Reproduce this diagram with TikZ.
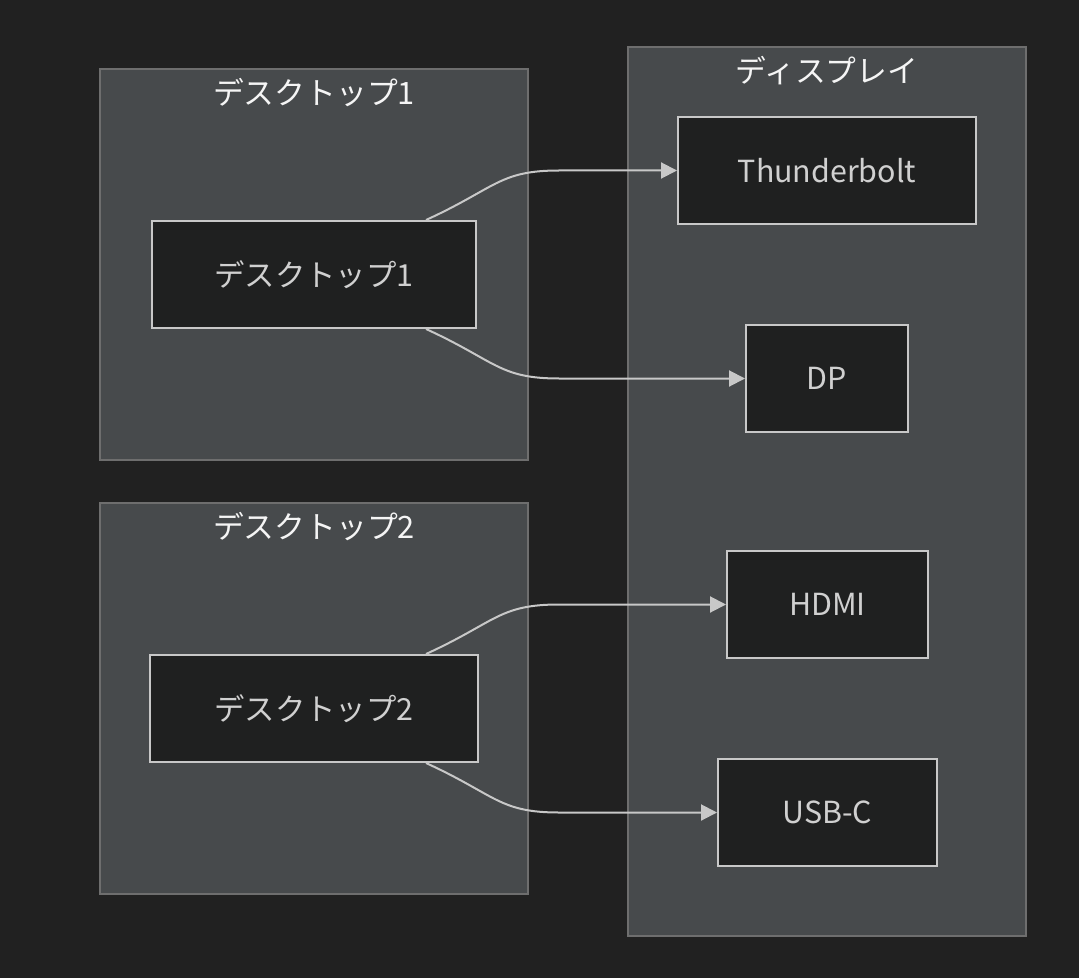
\documentclass[tikz,border=0pt]{standalone}
\usepackage{fontspec}
\setmainfont{Noto Sans CJK JP}
\usepackage{xcolor}
\usetikzlibrary{arrows.meta,positioning,calc}

\definecolor{bgdark}{HTML}{212121}
\definecolor{groupfill}{HTML}{474A4C}
\definecolor{groupline}{HTML}{6E6E6E}
\definecolor{boxfill}{HTML}{1F2020}
\definecolor{boxline}{HTML}{C8C8C8}
\definecolor{boxtext}{HTML}{D0D0D0}

\begin{document}
\begin{tikzpicture}[
    x=0.5pt, y=-0.5pt,
    group/.style={draw=groupline, fill=groupfill, line width=0.7pt},
    grouptitle/.style={text=white!96!black, font=\fontsize{15.4}{18}\selectfont},
    port/.style={rectangle, draw=boxline, fill=boxfill, line width=1pt, text=boxtext,
        minimum height=53.5pt, inner sep=0pt, font=\fontsize{15.2}{18}\selectfont},
    link/.style={draw=boxline, line width=1pt, -{Triangle[length=8pt,width=8pt]}}
]
    % Background
    \fill[bgdark] (0,0) rectangle (1079,978);

    % Groups
    \draw[group] (100,69) rectangle (528,460);
    \draw[group] (100,503) rectangle (528,894);
    \draw[group] (628,47) rectangle (1026,936);
    \node[grouptitle] (t1) at (314,93) {デスクトップ1};
    \node[grouptitle] (t2) at (314,527) {デスクトップ2};
    \node[grouptitle] (t3) at (827,71) {ディスプレイ};

    % Desktops
    \node[port, minimum width=162pt] (d1) at (314,274.5) {デスクトップ1};
    \node[port, minimum width=164pt] (d2) at (314,708.5) {デスクトップ2};

    % Display inputs
    \node[port, minimum width=149pt] (tb) at (827,170.5) {Thunderbolt};
    \node[port, minimum width=81pt] (dp) at (827,378.5) {DP};
    \node[port, minimum width=100.5pt] (hdmi) at (827.5,604.5) {HDMI};
    \node[port, minimum width=109.5pt] (usbc) at (827.5,812.5) {USB-C};

    % Links
    \draw[link] ([xshift=56pt]d1.north) .. controls +(70,-32) and +(-60,0) .. ([xshift=-59pt]tb.west) -- (tb.west);
    \draw[link] ([xshift=56pt]d1.south) .. controls +(70,32) and +(-60,0) .. ([xshift=-93pt]dp.west) -- (dp.west);
    \draw[link] ([xshift=56pt]d2.north) .. controls +(70,-32) and +(-60,0) .. ([xshift=-83.5pt]hdmi.west) -- (hdmi.west);
    \draw[link] ([xshift=56pt]d2.south) .. controls +(70,32) and +(-60,0) .. ([xshift=-79pt]usbc.west) -- (usbc.west);
\end{tikzpicture}
\end{document}
